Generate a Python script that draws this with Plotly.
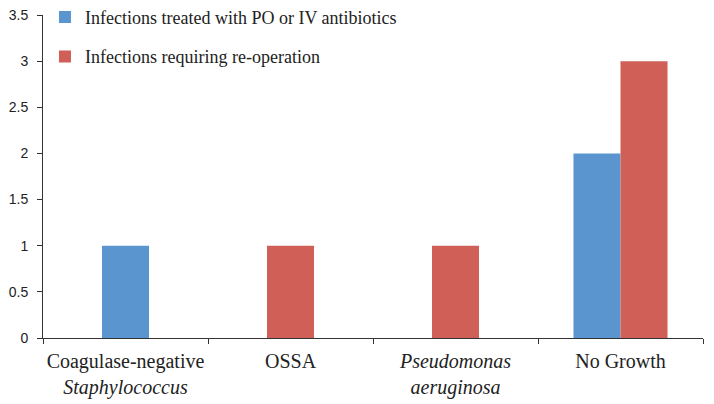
import plotly.graph_objects as go

categories = ["Coagulase-negative<br><i>Staphylococcus</i>", "OSSA",
              "<i>Pseudomonas<br>aeruginosa</i>", "No Growth"]
series_names = ["Infections treated with PO or IV antibiotics",
                "Infections requiring re-operation"]
treated_values = [1, 0, 0, 2]
reoperation_values = [0, 1, 1, 3]
y_ticks = [0, 0.5, 1, 1.5, 2, 2.5, 3, 3.5]

colors = ["#5B95D0", "#CF5F57"]
W = 0.285

def offsets(own, other, first):
    res = []
    for a, b in zip(own, other):
        if a and b:
            res.append(-W if first else 0)
        else:
            res.append(-W / 2)
    return res

fig = go.Figure()
fig.add_trace(go.Bar(
    x=categories, y=[v if v else None for v in treated_values],
    name=series_names[0], marker=dict(color=colors[0], line=dict(width=0)),
    width=W, offset=offsets(treated_values, reoperation_values, True),
    legendgroup="a"))
fig.add_trace(go.Bar(
    x=categories, y=[v if v else None for v in reoperation_values],
    name=series_names[1], marker=dict(color=colors[1], line=dict(width=0)),
    width=W, offset=offsets(reoperation_values, treated_values, False),
    legendgroup="b"))

fig.update_layout(
    width=706, height=396,
    margin=dict(l=35, r=11, t=7, b=66, autoexpand=False),
    barmode="overlay",
    plot_bgcolor="white", paper_bgcolor="white",
    showlegend=True,
    legend=dict(x=0.003, y=1.05, xref="paper", yref="paper",
                xanchor="left", yanchor="top",
                font=dict(family="Liberation Serif", size=18, color="#222"),
                bgcolor="rgba(0,0,0,0)", tracegroupgap=13,
                itemwidth=30),
    xaxis=dict(type="category", showline=True, linecolor="#333", linewidth=1,
               ticks="outside", ticklen=5, tickcolor="#333",
               tickson="boundaries", showgrid=False, tickangle=0,
               automargin=False, ticklabelstandoff=5,
               ticklabeloverflow="allow",
               tickfont=dict(family="Liberation Serif", size=20, color="#222")),
    yaxis=dict(range=[0, 3.5], tickvals=y_ticks,
               ticktext=[f"{v:g}" for v in y_ticks],
               showline=True, linecolor="#333", linewidth=1,
               ticks="outside", ticklen=5, tickcolor="#333", showgrid=False,
               zeroline=False, automargin=False, ticklabelstandoff=6,
               ticklabeloverflow="allow",
               tickfont=dict(family="Liberation Sans", size=14, color="#222")),
)

fig.write_html("out.html")
